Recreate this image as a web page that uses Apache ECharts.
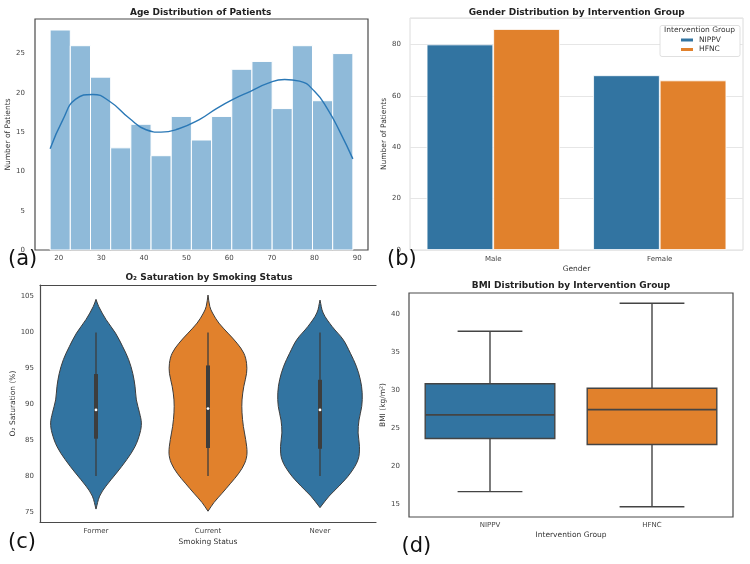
<!DOCTYPE html>
<html>
<head>
<meta charset="utf-8">
<script src="https://cdn.jsdelivr.net/npm/echarts@6/dist/echarts.min.js"></script>
<style>
  html, body { margin: 0; padding: 0; background: #fff; }
  #chart { width: 750px; height: 564px; }
</style>
</head>
<body>
<div id="chart"></div>
<script>
// (a) age histogram + kde
var ageBinEdges = [18, 22.73, 27.47, 32.2, 36.93, 41.67, 46.4, 51.13, 55.87, 60.6, 65.33, 70.07, 74.8, 79.53, 84.27, 89];
var ageCounts = [28, 26, 22, 13, 16, 12, 17, 14, 17, 23, 24, 18, 26, 19, 25];
var kdeAge = [18, 21, 24, 28, 32, 36.5, 40.5, 44, 48, 53, 57, 61, 65, 69, 73, 76.5, 80, 83, 86, 89];
var kdeCount = [12.9, 16.6, 19.2, 19.8, 18.9, 16.8, 15.3, 15.0, 15.4, 16.6, 18.0, 19.2, 20.2, 21.2, 21.7, 21.5, 20.2, 18.0, 15.0, 11.6];
var ageTicks = [20, 30, 40, 50, 60, 70, 80, 90];
var countTicks = [0, 5, 10, 15, 20, 25];

// (b) gender by group
var genders = ['Male', 'Female'];
var nippvCounts = [80, 68];
var hfncCounts = [86, 66];

// (c) O2 saturation violins (value, relative half width)
var smoking = ['Former', 'Current', 'Never'];
var formerO2 = [104.6, 103.6, 101.8, 99.9, 98.0, 96.2, 94.3, 92.5, 90.6, 88.8, 87.4, 86.0, 84.1, 82.3, 80.4, 78.6, 77.2, 75.4];
var formerWidth = [0, 0.06, 0.22, 0.43, 0.59, 0.72, 0.81, 0.86, 0.89, 0.96, 1.0, 0.97, 0.86, 0.68, 0.45, 0.22, 0.08, 0];
var currentO2 = [105.2, 103.6, 102.7, 101.3, 99.9, 98.5, 97.1, 95.7, 94.3, 92.5, 90.6, 88.8, 86.9, 85.1, 83.2, 81.8, 80.4, 79.0, 77.6, 76.3, 75.1];
var currentWidth = [0, 0.04, 0.1, 0.24, 0.44, 0.64, 0.79, 0.85, 0.85, 0.79, 0.75, 0.75, 0.78, 0.83, 0.86, 0.81, 0.68, 0.5, 0.31, 0.13, 0];
var neverO2 = [104.5, 102.7, 100.8, 99.0, 97.1, 95.3, 93.4, 91.6, 89.7, 87.8, 86.0, 84.1, 82.3, 80.4, 78.6, 77.2, 75.6];
var neverWidth = [0, 0.07, 0.27, 0.51, 0.67, 0.8, 0.89, 0.93, 0.92, 0.86, 0.84, 0.87, 0.84, 0.67, 0.42, 0.2, 0];
// [low, q1, median, q3, high]
var o2Stats = [[80, 85.2, 89.2, 94.2, 100], [80, 83.9, 89.4, 95.4, 100], [80, 83.8, 89.2, 93.4, 100]];
var o2Ticks = [75, 80, 85, 90, 95, 100, 105];

// (d) BMI boxes [low, q1, median, q3, high]
var bmiGroups = ['NIPPV', 'HFNC'];
var bmiStats = [[16.7, 23.7, 26.8, 30.9, 37.8], [14.7, 22.9, 27.5, 30.3, 41.5]];
var bmiTicks = [15, 20, 25, 30, 35, 40];

var BLUE = '#3274a1', ORANGE = '#e1812c';
var FONT = 'DejaVu Sans';
var violinColors = [BLUE, ORANGE, BLUE];
var boxColors = [BLUE, ORANGE];
var profiles = [[formerO2, formerWidth], [currentO2, currentWidth], [neverO2, neverWidth]];

var chart = echarts.init(document.getElementById('chart'));

var tickLabel = { fontSize: 7, color: '#444', fontFamily: FONT };
var nameStyle = { fontSize: 7.5, color: '#333', fontFamily: FONT };

function renderHist(params, api) {
  var p0 = api.coord([api.value(0), api.value(2)]);
  var p1 = api.coord([api.value(1), 0]);
  return {
    type: 'rect',
    shape: { x: p0[0], y: p0[1], width: p1[0] - p0[0], height: p1[1] - p0[1] },
    style: { fill: '#8fbad9', stroke: '#fff', lineWidth: 1 }
  };
}

function renderViolin(params, api) {
  var idx = params.dataIndex;
  var vals = profiles[idx][0], ws = profiles[idx][1];
  var band = api.size([1, 0])[0];
  var half = band * 0.405;
  var right = [], left = [];
  for (var i = 0; i < vals.length; i++) {
    var c = api.coord([idx, vals[i]]);
    right.push([c[0] + ws[i] * half, c[1]]);
    left.unshift([c[0] - ws[i] * half, c[1]]);
  }
  var st = o2Stats[idx];
  var lo = api.coord([idx, st[0]]), q1 = api.coord([idx, st[1]]), md = api.coord([idx, st[2]]);
  var q3 = api.coord([idx, st[3]]), hi = api.coord([idx, st[4]]);
  return {
    type: 'group',
    children: [
      { type: 'polygon', shape: { points: right.concat(left), smooth: 0.35 },
        style: { fill: violinColors[idx], stroke: '#3d3d3d', lineWidth: 1 } },
      { type: 'line', shape: { x1: lo[0], y1: lo[1], x2: hi[0], y2: hi[1] },
        style: { stroke: '#3d3d3d', lineWidth: 1.3 } },
      { type: 'rect', shape: { x: q3[0] - 2, y: q3[1], width: 4, height: q1[1] - q3[1] },
        style: { fill: '#3d3d3d' } },
      { type: 'circle', shape: { cx: md[0], cy: md[1], r: 1.4 }, style: { fill: '#fff' } }
    ]
  };
}

function renderBox(params, api) {
  var idx = params.dataIndex;
  var st = bmiStats[idx];
  var band = api.size([1, 0])[0];
  var hw = band * 0.4, cw = band * 0.2;
  var lo = api.coord([idx, st[0]]), q1 = api.coord([idx, st[1]]), md = api.coord([idx, st[2]]);
  var q3 = api.coord([idx, st[3]]), hi = api.coord([idx, st[4]]);
  var x = lo[0];
  var ls = { stroke: '#444', lineWidth: 1.4 };
  return {
    type: 'group',
    children: [
      { type: 'line', shape: { x1: x, y1: q1[1], x2: x, y2: lo[1] }, style: ls },
      { type: 'line', shape: { x1: x, y1: q3[1], x2: x, y2: hi[1] }, style: ls },
      { type: 'line', shape: { x1: x - cw, y1: lo[1], x2: x + cw, y2: lo[1] }, style: ls },
      { type: 'line', shape: { x1: x - cw, y1: hi[1], x2: x + cw, y2: hi[1] }, style: ls },
      { type: 'rect', shape: { x: x - hw, y: q3[1], width: hw * 2, height: q1[1] - q3[1] },
        style: { fill: boxColors[idx], stroke: '#444', lineWidth: 1.4 } },
      { type: 'line', shape: { x1: x - hw, y1: md[1], x2: x + hw, y2: md[1] }, style: { stroke: '#444', lineWidth: 1.8 } }
    ]
  };
}

var histData = ageCounts.map(function (c, i) { return [ageBinEdges[i], ageBinEdges[i + 1], c]; });
var kdeData = kdeAge.map(function (a, i) { return [a, kdeCount[i]]; });

var option = {
  animation: false,
  backgroundColor: '#fff',
  textStyle: { fontFamily: FONT },
  grid: [
    { left: 35, top: 19, width: 333, height: 231, show: true, borderColor: '#4a4a4a', borderWidth: 1.2, backgroundColor: 'transparent' },
    { left: 410, top: 18, width: 333, height: 232, show: true, borderColor: '#dcdcdc', borderWidth: 1, backgroundColor: 'transparent' },
    { left: 40, top: 285, width: 336, height: 237 },
    { left: 409, top: 293, width: 324, height: 224, show: true, borderColor: '#4a4a4a', borderWidth: 1.2, backgroundColor: 'transparent' }
  ],
  xAxis: [
    { gridIndex: 0, type: 'value', min: 14.45, max: 92.55,
      axisLine: { show: false }, axisTick: { show: false }, splitLine: { show: false },
      axisLabel: Object.assign({ customValues: ageTicks, margin: 5 }, tickLabel) },
    { gridIndex: 1, type: 'category', data: genders, name: 'Gender', nameLocation: 'middle', nameGap: 15,
      nameTextStyle: nameStyle, axisLine: { show: false }, axisTick: { show: false },
      axisLabel: Object.assign({ margin: 6 }, tickLabel) },
    { gridIndex: 2, type: 'category', data: smoking, name: 'Smoking Status', nameLocation: 'middle', nameGap: 16,
      nameTextStyle: nameStyle, axisLine: { show: true, lineStyle: { color: '#4a4a4a', width: 1.2 } },
      axisTick: { show: false }, axisLabel: Object.assign({ margin: 6 }, tickLabel) },
    { gridIndex: 3, type: 'category', data: bmiGroups, name: 'Intervention Group', nameLocation: 'middle', nameGap: 14,
      nameTextStyle: nameStyle, axisLine: { show: false }, axisTick: { show: false },
      axisLabel: Object.assign({ margin: 5 }, tickLabel) },
    { gridIndex: 2, type: 'value', position: 'top', min: 0, max: 1,
      axisLine: { show: true, lineStyle: { color: '#4a4a4a', width: 1.2 } },
      axisTick: { show: false }, axisLabel: { show: false }, splitLine: { show: false } }
  ],
  yAxis: [
    { gridIndex: 0, type: 'value', min: 0, max: 29.4, name: 'Number of Patients', nameLocation: 'middle', nameGap: 19,
      nameTextStyle: nameStyle, axisLine: { show: false }, axisTick: { show: false }, splitLine: { show: false },
      axisLabel: Object.assign({ customValues: countTicks, margin: 10 }, tickLabel) },
    { gridIndex: 1, type: 'value', min: 0, max: 90.3, interval: 20, name: 'Number of Patients', nameLocation: 'middle', nameGap: 18,
      nameTextStyle: nameStyle, axisLine: { show: false }, axisTick: { show: false },
      splitLine: { show: true, lineStyle: { color: '#e6e6e6', width: 1 } },
      axisLabel: Object.assign({ margin: 9, showMaxLabel: false }, tickLabel) },
    { gridIndex: 2, type: 'value', min: 73.6, max: 106.6, name: 'O\u2082 Saturation (%)', nameLocation: 'middle', nameGap: 22,
      nameTextStyle: nameStyle, axisLine: { show: true, lineStyle: { color: '#4a4a4a', width: 1.2 } },
      axisTick: { show: false }, splitLine: { show: false },
      axisLabel: Object.assign({ customValues: o2Ticks, margin: 6 }, tickLabel) },
    { gridIndex: 3, type: 'value', min: 13.36, max: 42.84, name: 'BMI (kg/m\u00b2)', nameLocation: 'middle', nameGap: 18,
      nameTextStyle: nameStyle, axisLine: { show: false }, axisTick: { show: false }, splitLine: { show: false },
      axisLabel: Object.assign({ customValues: bmiTicks, margin: 9 }, tickLabel) }
  ],
  legend: {
    data: ['NIPPV', 'HFNC'], orient: 'vertical', left: 679, top: 36, padding: 0, itemWidth: 14, itemHeight: 5, itemGap: 1.5,
    icon: 'rect', selectedMode: false, z: 12,
    textStyle: { fontSize: 7.5, color: '#333', fontFamily: FONT }
  },
  graphic: [
    { type: 'rect', z: 10, shape: { x: 660, y: 25.5, width: 80, height: 31, r: 2 }, style: { fill: '#fff', stroke: '#d8d8d8', lineWidth: 0.8 } },
    { type: 'text', z: 11, x: 699.5, y: 30.5, style: { text: 'Intervention Group', fontSize: 7.5, fill: '#333', fontFamily: FONT, align: 'center', verticalAlign: 'middle' } },
    { type: 'text', x: 200.7, y: 12.3, style: { text: 'Age Distribution of Patients', fontSize: 9, fontWeight: 'bold', fill: '#222', fontFamily: FONT, align: 'center', verticalAlign: 'middle' } },
    { type: 'text', x: 576.7, y: 12.7, style: { text: 'Gender Distribution by Intervention Group', fontSize: 9, fontWeight: 'bold', fill: '#222', fontFamily: FONT, align: 'center', verticalAlign: 'middle' } },
    { type: 'text', x: 209, y: 277.3, style: { text: 'O\u2082 Saturation by Smoking Status', fontSize: 9, fontWeight: 'bold', fill: '#222', fontFamily: FONT, align: 'center', verticalAlign: 'middle' } },
    { type: 'text', x: 571, y: 285.7, style: { text: 'BMI Distribution by Intervention Group', fontSize: 9, fontWeight: 'bold', fill: '#222', fontFamily: FONT, align: 'center', verticalAlign: 'middle' } },
    { type: 'text', z: 20, x: 8, y: 260, style: { text: '(a)', fontSize: 21, fill: '#111', fontFamily: FONT, verticalAlign: 'middle' } },
    { type: 'text', z: 20, x: 387, y: 260, style: { text: '(b)', fontSize: 21, fill: '#111', fontFamily: FONT, verticalAlign: 'middle' } },
    { type: 'text', z: 20, x: 8, y: 543, style: { text: '(c)', fontSize: 21, fill: '#111', fontFamily: FONT, verticalAlign: 'middle' } },
    { type: 'text', z: 20, x: 401.5, y: 546.5, style: { text: '(d)', fontSize: 21, fill: '#111', fontFamily: FONT, verticalAlign: 'middle' } }
  ],
  series: [
    { type: 'custom', xAxisIndex: 0, yAxisIndex: 0, renderItem: renderHist, data: histData,
      encode: { x: [0, 1], y: 2 } },
    { type: 'line', xAxisIndex: 0, yAxisIndex: 0, data: kdeData, smooth: 0.5, symbol: 'none',
      lineStyle: { color: '#2a78b6', width: 1.4 }, z: 5 },
    { type: 'bar', name: 'NIPPV', xAxisIndex: 1, yAxisIndex: 1, data: nippvCounts, barGap: '0%', barCategoryGap: '20%',
      itemStyle: { color: BLUE, borderColor: '#fff', borderWidth: 0.8 } },
    { type: 'bar', name: 'HFNC', xAxisIndex: 1, yAxisIndex: 1, data: hfncCounts, barGap: '0%', barCategoryGap: '20%',
      itemStyle: { color: ORANGE, borderColor: '#fff', borderWidth: 0.8 } },
    { type: 'custom', xAxisIndex: 2, yAxisIndex: 2, renderItem: renderViolin,
      data: smoking.map(function (s, i) { return [i, o2Stats[i][2]]; }), encode: { x: 0, y: 1 } },
    { type: 'custom', xAxisIndex: 3, yAxisIndex: 3, renderItem: renderBox,
      data: bmiGroups.map(function (g, i) { return [i, bmiStats[i][2]]; }), encode: { x: 0, y: 1 } }
  ]
};

chart.setOption(option);
</script>
</body>
</html>
